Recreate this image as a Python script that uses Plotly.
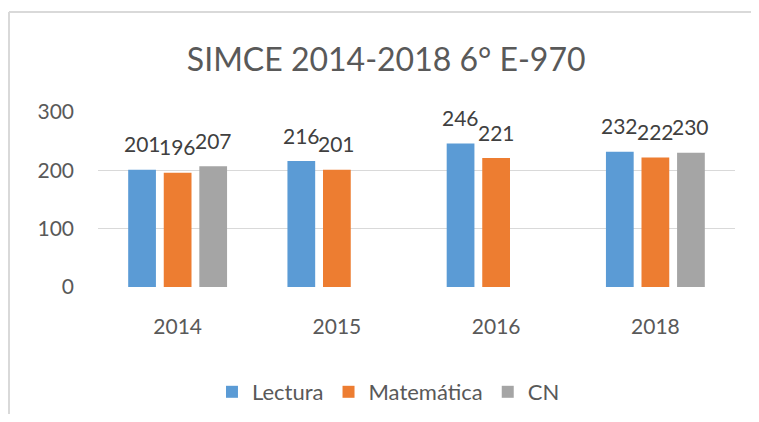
import plotly.graph_objects as go

years = ["2014", "2015", "2016", "2018"]
lectura = [201, 216, 246, 232]
matematica = [196, 201, 221, 222]
cn = [207, None, None, 230]
series_names = ["Lectura", "Matemática", "CN"]
colors = ["#5B9BD5", "#ED7D31", "#A5A5A5"]
y_ticks = [0, 100, 200, 300]

FONT = "Lato"
TXT = "#595959"
bargap = 0.33
series = [lectura, matematica, cn]

fig = go.Figure()
for name, vals, col in zip(series_names, series, colors):
    fig.add_trace(go.Bar(x=years, y=vals, name=name, marker=dict(color=col, line=dict(width=0))))

slot = (1 - bargap) / len(series)
annotations = []
for k, vals in enumerate(series):
    off = (k - (len(series) - 1) / 2) * slot
    for i, v in enumerate(vals):
        if v is None:
            continue
        annotations.append(dict(x=i + off, y=v, xref="x", yref="y", text=str(v),
                                showarrow=False, yanchor="middle", yshift=26,
                                font=dict(family=FONT, size=21, color="#404040")))

border = dict(color="#d9d9d9", width=2)
fig.update_layout(
    width=743, height=406,
    margin=dict(l=90, r=16, t=104, b=127, autoexpand=False),
    paper_bgcolor="white", plot_bgcolor="white",
    barmode="group", bargap=bargap, bargroupgap=0.22,
    title=dict(text="SIMCE 2014-2018 6° E-970", x=0.509, xanchor="center", y=1 - 52 / 406, yanchor="middle",
               font=dict(family=FONT, size=32, color=TXT)),
    font=dict(family=FONT, color=TXT),
    legend=dict(orientation="h", x=0.456, xanchor="center", y=-0.6, yanchor="middle",
                font=dict(family=FONT, size=22, color=TXT), traceorder="normal"),
    annotations=annotations,
    shapes=[
        dict(type="line", xref="paper", yref="paper", x0=-0.1397, x1=1.2, y0=1.571, y1=1.571,
             line=border, layer="below"),
        dict(type="line", xref="paper", yref="paper", x0=-0.1397, x1=-0.1397, y0=-0.9, y1=1.571,
             line=border, layer="below"),
    ],
)
fig.update_yaxes(range=[0, 300], tickvals=y_ticks, showgrid=True, gridcolor="#d9d9d9", gridwidth=1,
                 zeroline=False, showline=False, ticks="", ticklabelstandoff=23,
                 tickfont=dict(family=FONT, size=21, color=TXT))
fig.update_xaxes(showgrid=False, showline=False, ticks="", ticklabelstandoff=25,
                 tickfont=dict(family=FONT, size=21, color=TXT))

fig.write_html("out.html")
